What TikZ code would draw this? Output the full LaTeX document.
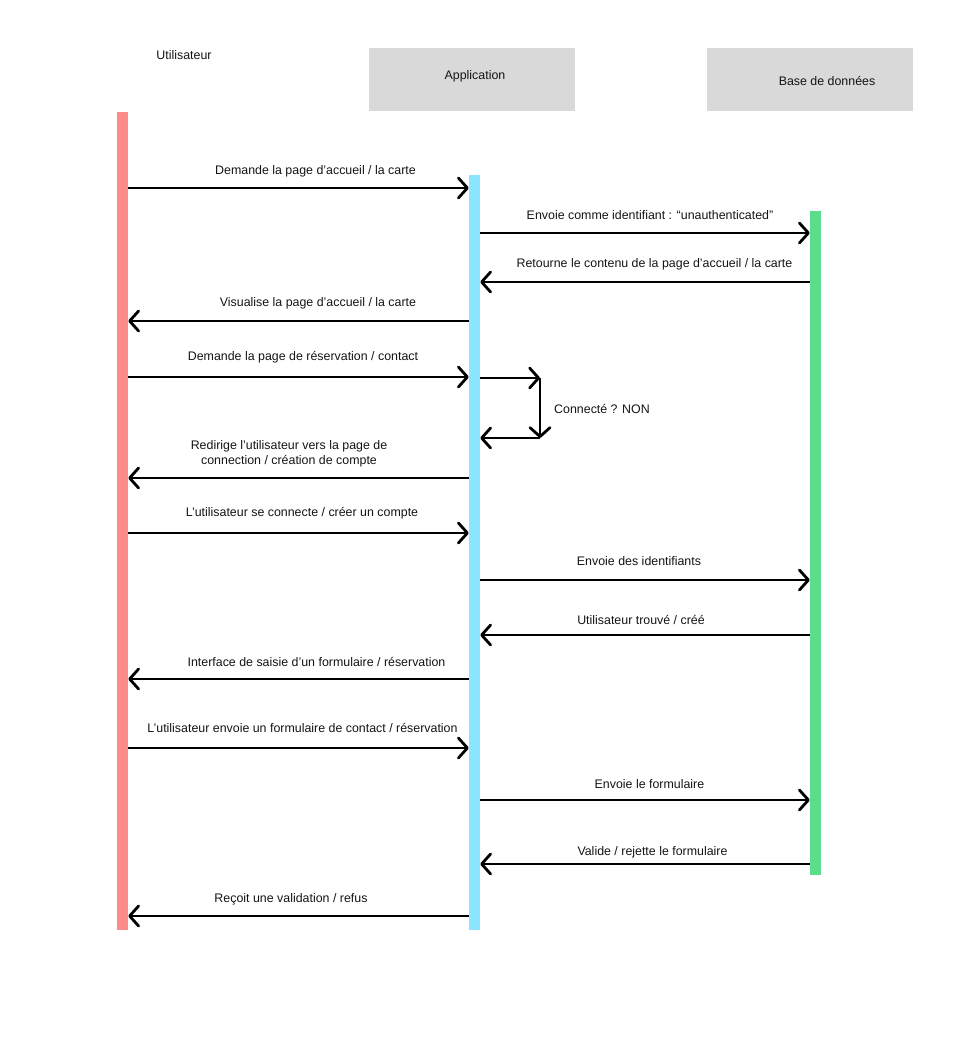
\documentclass[tikz,border=0pt]{standalone}
\usepackage{fontspec}
\setmainfont{Liberation Sans}
\usetikzlibrary{arrows.meta}
\definecolor{userred}{HTML}{FF8A8A}
\definecolor{appblue}{HTML}{8AE6FF}
\definecolor{dbgreen}{HTML}{5CDD8B}
\definecolor{headgray}{HTML}{D9D9D9}
\begin{document}
\begin{tikzpicture}[x=1pt,y=-1pt,
  lifeline/.style={draw=none, inner sep=0, minimum width=11pt, anchor=north},
  headbox/.style={fill=headgray, inner sep=0, minimum width=206pt, minimum height=63pt, anchor=north west},
  lbl/.style={font=\fontsize{12.4}{15.5}\selectfont, inner sep=0, text=black!92, align=center},
  msg/.style={line width=2.8pt, -{Straight Barb[length=9pt,width=20pt,line width=2.8pt,round]}},
]
\useasboundingbox (0,0) rectangle (959,1043);

% participants
\node[lbl] (userlbl) at (184,55) {Utilisateur};
\node[headbox] (apphead) at (369,48) {};
\node[lbl] (applbl) at (475,76) {Application};
\node[headbox] (dbhead) at (707,48) {};
\node[lbl] (dblbl) at (827,81) {Base de données};

% lifelines
\node[lifeline, fill=userred, minimum height=818pt] (user) at (122.5,112) {};
\node[lifeline, fill=appblue, minimum height=755pt] (app) at (474.5,175) {};
\node[lifeline, fill=dbgreen, minimum height=664pt] (db) at (815.5,211) {};

% messages
\draw[msg] (user.east |- 0,188) -- (app.west |- 0,188);
\node[lbl] (m1) at (315.5,171) {Demande la page d’accueil / la carte};

\draw[msg] (app.east |- 0,233) -- (db.west |- 0,233);
\node[lbl] (m2) at (650,215) {Envoie comme identifiant : “unauthenticated”};

\draw[msg] (db.west |- 0,282) -- (app.east |- 0,282);
\node[lbl] (m3) at (654.5,264) {Retourne le contenu de la page d’accueil / la carte};

\draw[msg] (app.west |- 0,321) -- (user.east |- 0,321);
\node[lbl] (m4) at (318,303) {Visualise la page d’accueil / la carte};

\draw[msg] (user.east |- 0,377) -- (app.west |- 0,377);
\node[lbl] (m5) at (303,357) {Demande la page de réservation / contact};

% self message on the application
\coordinate (loopA) at (540,378);
\coordinate (loopB) at (540,438);
\draw[msg] (app.east |- 0,378) -- (loopA);
\draw[msg] (loopA) -- (loopB);
\draw[msg] (loopB) -- (app.east |- 0,438);
\node[lbl] (m6) at (602,409) {Connecté ? NON};

\draw[msg] (app.west |- 0,478) -- (user.east |- 0,478);
\node[lbl] (m7) at (289,454) {Redirige l’utilisateur vers la page de\\connection / création de compte};

\draw[msg] (user.east |- 0,533) -- (app.west |- 0,533);
\node[lbl] (m8) at (302,513) {L’utilisateur se connecte / créer un compte};

\draw[msg] (app.east |- 0,580) -- (db.west |- 0,580);
\node[lbl] (m9) at (639,561) {Envoie des identifiants};

\draw[msg] (db.west |- 0,635) -- (app.east |- 0,635);
\node[lbl] (m10) at (641,620) {Utilisateur trouvé / créé};

\draw[msg] (app.west |- 0,679) -- (user.east |- 0,679);
\node[lbl] (m11) at (316.5,662) {Interface de saisie d’un formulaire / réservation};

\draw[msg] (user.east |- 0,748) -- (app.west |- 0,748);
\node[lbl] (m12) at (302.5,728) {L’utilisateur envoie un formulaire de contact / réservation};

\draw[msg] (app.east |- 0,800) -- (db.west |- 0,800);
\node[lbl] (m13) at (649.5,784) {Envoie le formulaire};

\draw[msg] (db.west |- 0,864) -- (app.east |- 0,864);
\node[lbl] (m14) at (652.5,852) {Valide / rejette le formulaire};

\draw[msg] (app.west |- 0,916) -- (user.east |- 0,916);
\node[lbl] (m15) at (291,899) {Reçoit une validation / refus};
\end{tikzpicture}
\end{document}
